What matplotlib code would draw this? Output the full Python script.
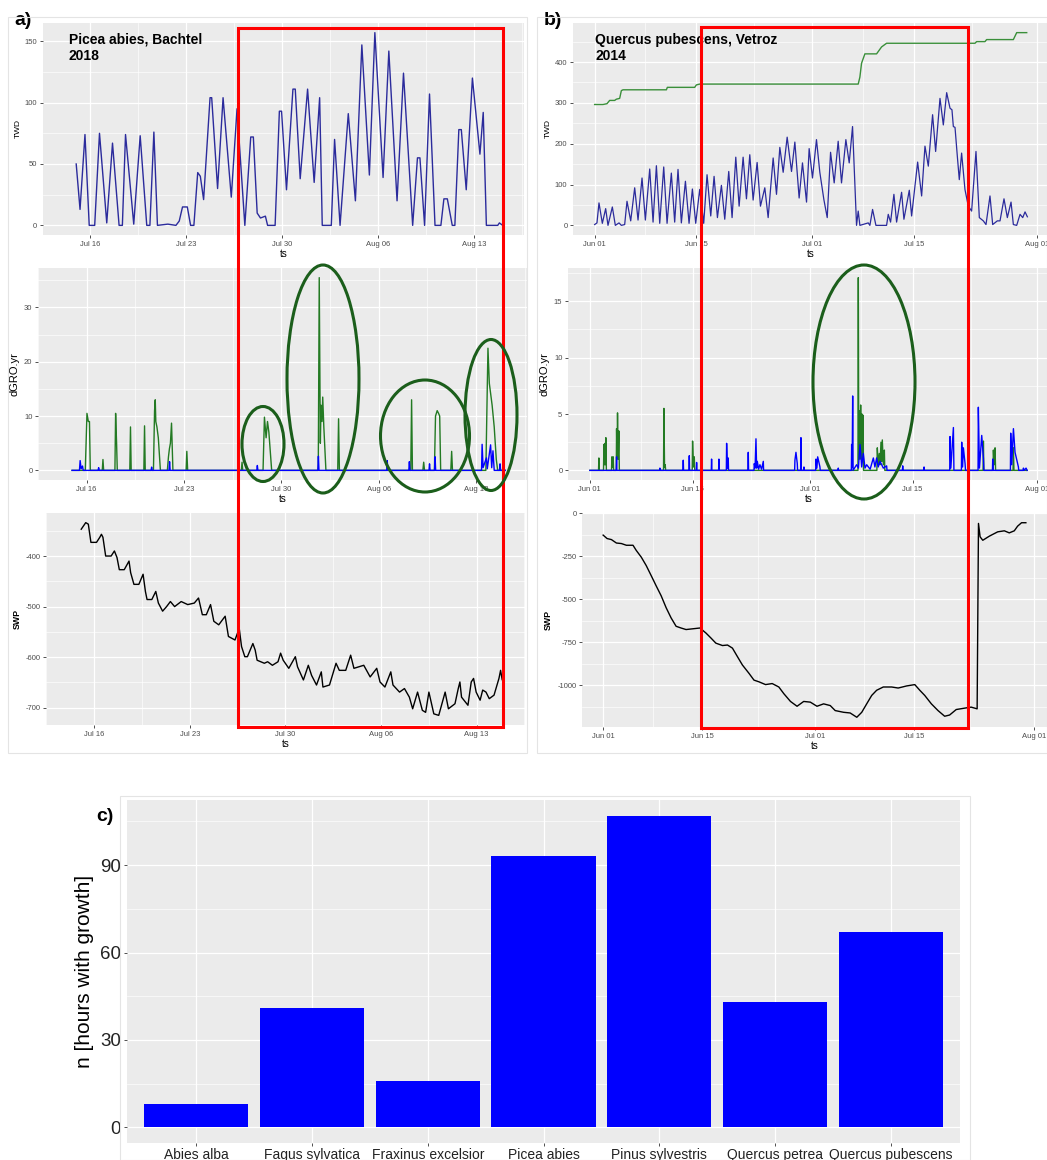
import numpy as np
import pandas as pd
import matplotlib
matplotlib.use('Agg')
import matplotlib.pyplot as plt
from matplotlib.patches import Rectangle, Ellipse
from matplotlib.ticker import MultipleLocator
import matplotlib.dates as mdates

plt.rcParams['font.family'] = ['Liberation Sans', 'DejaVu Sans']
plt.rcParams['axes.unicode_minus'] = False

# ---------------- a) Picea abies, Bachtel 2018 -- days after 2018-07-16 ----------------
START_A = '2018-07-16'
twd_a_day = [-1.04, -0.76, -0.40, -0.09, 0.31, 0.66, 1.19, 1.61, 2.09, 2.33, 2.56, 3.16,
             3.63, 4.11, 4.34, 4.63, 4.89, 5.65, 6.24, 6.48, 6.72, 7.07, 7.31, 7.55,
             7.83, 8.02, 8.26, 8.73, 8.85, 9.28, 9.68, 10.28, 10.70, 11.27, 11.70, 11.89,
             12.17, 12.41, 12.77, 12.93, 13.48, 13.79, 13.95, 14.31, 14.78, 14.95, 15.31, 15.85,
             16.33, 16.73, 16.92, 17.58, 17.82, 18.22, 18.82, 19.34, 19.81, 20.36, 20.76, 21.36,
             21.78, 22.38, 22.85, 23.52, 23.87, 24.05, 24.39, 24.75, 25.15, 25.58, 25.80, 26.05,
             26.41, 26.60, 26.89, 27.07, 27.43, 27.88, 28.43, 28.67, 28.90, 29.73, 29.85, 30.09]
twd_a = [50, 13, 74, 0, 0, 75, 2, 67, 0, 0, 74, 1,
         73, 0, 0, 76, 0, 1, 0, 3.5, 15, 15, 0, 0,
         43, 40, 21, 104, 104, 30, 104, 23, 95, 0, 72, 72,
         10, 6, 7.5, 0, 0, 93, 93, 29, 111, 111, 38, 111,
         35, 104, 0, 0, 70, 0, 91, 20, 147, 41, 157, 39,
         142, 20, 124, 0, 55, 55, 0, 107, 0, 0, 21.6, 21.6,
         0, 0, 78, 78, 29, 120, 58, 92, 0, 0, 2, 0]

dgro_a_green_day = [-1.05, -0.10, 0.02, 0.12, 0.20, 0.26,
                    1.12, 1.17, 1.22,
                    2.03, 2.08, 2.15, 2.20,
                    3.10, 3.15, 3.20,
                    4.11, 4.16, 4.21,
                    4.80, 4.88, 4.93, 4.97, 5.05, 5.15, 5.30,
                    5.80, 5.88, 5.95, 6.02, 6.10, 6.20,
                    7.15, 7.20, 7.26,
                    11.12, 11.17, 11.22,
                    12.68, 12.78, 12.90, 13.00, 13.10, 13.30,
                    16.65, 16.72, 16.80, 16.85, 16.92, 16.97, 17.05, 17.20,
                    18.05, 18.11, 18.17,
                    23.30, 23.36, 23.42,
                    24.17, 24.23, 24.29,
                    25.00, 25.08, 25.20, 25.30, 25.38, 25.45,
                    26.18, 26.24, 26.30,
                    28.70, 28.85, 28.95, 29.05, 29.15, 29.30, 29.45, 29.55,
                    30.10]
dgro_a_green = [0, 0, 10.5, 9, 9, 0,
                0, 2, 0,
                0, 10.5, 5, 0,
                0, 8, 0,
                0, 8.2, 0,
                0, 11, 13, 9, 8, 6, 0,
                0, 2.5, 4, 5, 8.7, 0,
                0, 3.5, 0,
                0, 1.5, 0,
                0, 9.8, 6, 9, 7, 0,
                0, 35.5, 5, 12, 9, 13.5, 8, 0,
                0, 9.5, 0,
                0, 13, 0,
                0, 1.5, 0,
                0, 10, 11, 10.5, 10, 0,
                0, 3.5, 0,
                0, 22.5, 16, 14, 12, 8, 2, 0,
                0]

dgro_a_blue_day = [-1.05, -0.52, -0.47, -0.40, -0.30, -0.25, 0.82, 0.86, 0.90,
                   4.63, 4.67, 4.71, 5.92, 5.96, 6.00, 12.23, 12.27, 12.31,
                   16.62, 16.66, 16.70, 21.57, 21.61, 21.65, 23.16, 23.20, 23.24,
                   24.61, 24.65, 24.69, 25.01, 25.05, 25.09, 28.39, 28.43, 28.50,
                   28.74, 28.80, 29.04, 29.12, 29.21, 29.30, 29.68, 29.72, 29.76, 30.10]
dgro_a_blue = [0, 0, 1.8, 0.3, 0.8, 0, 0, 0.5, 0,
               0, 0.6, 0, 0, 1.6, 0, 0, 0.9, 0,
               0, 2.6, 0, 0, 1.8, 0, 0, 1.6, 0,
               0, 1.2, 0, 0, 2.5, 0, 0, 4.8, 0.5,
               2.3, 0.3, 4.7, 0.5, 3.6, 0, 0, 1.2, 0, 0]

swp_a_day = [-0.95, -0.62, -0.43, -0.24, 0.17, 0.41, 0.53, 0.64, 0.84, 1.24, 1.48, 1.67,
             1.84, 2.20, 2.55, 2.67, 2.91, 3.27, 3.58, 3.75, 3.87, 4.22, 4.51, 4.70,
             5.01, 5.30, 5.58, 5.89, 6.37, 6.85, 7.33, 7.64, 7.92, 8.21, 8.52, 8.76,
             9.12, 9.59, 9.83, 10.31, 10.62, 10.79, 11.03, 11.22, 11.62, 11.79, 11.93, 12.46,
             12.70, 13.05, 13.46, 13.65, 13.84, 14.25, 14.73, 14.89, 15.32, 15.68, 15.92, 16.28,
             16.63, 16.75, 17.23, 17.71, 17.95, 18.42, 18.78, 19.02, 19.74, 20.21, 20.69, 20.93,
             21.29, 21.72, 21.88, 22.36, 22.72, 23.08, 23.32, 23.68, 24.03, 24.27, 24.51, 24.87,
             25.23, 25.70, 25.94, 26.42, 26.66, 26.78, 26.90, 27.37, 27.61, 27.78, 27.97, 28.26,
             28.45, 28.69, 28.93, 29.28, 29.64, 29.76, 29.88, 30.00]
swp_a = [-347, -334, -337, -373, -373, -363, -357, -363, -400, -400, -390, -403,
         -427, -427, -410, -433, -456, -456, -436, -470, -486, -486, -470, -493,
         -509, -500, -490, -500, -490, -496, -493, -483, -516, -516, -496, -529,
         -536, -519, -559, -566, -543, -579, -599, -599, -573, -586, -606, -612,
         -609, -616, -609, -592, -606, -622, -599, -619, -645, -616, -636, -655,
         -629, -659, -655, -612, -626, -626, -596, -622, -616, -639, -622, -649,
         -659, -629, -655, -669, -662, -679, -702, -669, -705, -709, -669, -712,
         -715, -669, -702, -692, -662, -649, -679, -695, -649, -642, -669, -685,
         -665, -669, -682, -675, -642, -626, -645, -645]

a_breaks = ['2018-07-16', '2018-07-23', '2018-07-30', '2018-08-06', '2018-08-13']
a_minor = ['2018-07-12 12:00', '2018-07-19 12:00', '2018-07-26 12:00',
           '2018-08-02 12:00', '2018-08-09 12:00', '2018-08-16 12:00']

# ---------------- b) Quercus pubescens, Vetroz 2014 -- days after 2014-06-01 ----------------
START_B = '2014-06-01'
twd_b_day = [0.00, 0.32, 0.60, 1.06, 1.52, 1.84, 2.44, 2.85, 3.36, 3.68, 4.14, 4.46,
             4.97, 5.52, 5.98, 6.53, 6.99, 7.59, 8.05, 8.51, 8.97, 9.52, 9.98, 10.57,
             11.03, 11.49, 11.95, 12.51, 13.01, 13.47, 13.93, 14.48, 15.03, 15.49, 16.00, 16.46,
             16.92, 17.47, 17.93, 18.48, 18.94, 19.45, 19.91, 20.46, 20.92, 21.38, 21.84, 22.39,
             22.85, 23.45, 23.91, 24.60, 25.06, 25.52, 25.98, 26.53, 27.13, 27.59, 28.18, 28.64,
             29.20, 29.56, 30.02, 30.57, 31.03, 31.59, 32.05, 32.51, 33.01, 33.56, 34.02, 34.62,
             35.08, 35.54, 36.09, 36.32, 36.55, 37.70, 37.93, 38.30, 38.76, 40.23, 40.46, 40.78,
             41.24, 41.61, 42.30, 42.62, 43.36, 43.68, 44.51, 45.06, 45.52, 45.98, 46.57, 46.99,
             47.59, 48.05, 48.51, 48.97, 49.24, 49.43, 49.66, 49.98, 50.25, 50.57, 51.03, 51.49,
             51.95, 52.55, 53.01, 53.56, 53.93, 54.48, 54.85, 55.49, 55.86, 56.41, 56.87, 57.38,
             57.70, 58.16, 58.62, 58.99, 59.31, 59.63]
twd_b = [2, 6, 55, 5, 41, 0, 45, 0, 6, 0, 2, 59,
         11, 92, 13, 116, 13, 138, 8, 146, 5, 143, 5, 128,
         8, 137, 6, 108, 5, 89, 5, 88, 5, 124, 23, 120,
         19, 98, 15, 132, 19, 167, 47, 167, 65, 173, 62, 154,
         47, 92, 19, 165, 76, 191, 130, 216, 132, 204, 67, 153,
         57, 188, 116, 210, 130, 63, 19, 179, 104, 206, 104, 210,
         153, 242, 0, 35, 0, 6, 0, 39, 0, 0, 27, 8,
         76, 8, 81, 15, 86, 23, 155, 72, 194, 145, 271, 181,
         311, 246, 325, 287, 283, 242, 240, 169, 112, 177, 88, 47,
         35, 181, 19, 11, 2, 72, 2, 11, 11, 65, 19, 57,
         2, 0, 27, 19, 33, 21]

twd_b_cum_day = [0.00, 1.15, 1.70, 2.07, 2.76, 2.99, 3.45, 3.68, 3.91, 9.89, 10.02, 13.79,
                 14.02, 14.48, 36.32, 36.55, 36.78, 37.24, 38.85, 39.54, 40.23, 52.41, 52.64, 53.79,
                 54.02, 57.70, 58.16, 59.54]
twd_b_cum = [296, 296, 298, 306, 306, 309, 311, 330, 332, 332, 338, 338,
             344, 346, 346, 363, 397, 420, 420, 437, 446, 446, 450, 450,
             455, 455, 472, 472]

dgro_b_green_day = [0.00, 1.18, 1.23, 1.28,
                    1.86, 1.91, 1.98, 2.05, 2.12, 2.18, 2.25,
                    2.95, 3.00, 3.09, 3.18, 3.24,
                    3.60, 3.64, 3.70, 3.77, 3.86, 3.95, 4.02,
                    10.04, 10.09, 10.18, 10.27, 10.33,
                    13.95, 14.00, 14.12, 14.23, 14.30,
                    36.54, 36.59, 36.65, 36.73, 36.82, 36.91, 37.00, 37.09, 37.16, 37.23, 37.30,
                    39.12, 39.18, 39.30, 39.45, 39.55, 39.68, 39.78, 39.86, 40.00, 40.14, 40.20,
                    53.59, 53.64, 53.70,
                    54.95, 55.00, 55.10, 55.23, 55.30,
                    57.68, 57.73, 57.80,
                    59.60]
dgro_b_green = [0, 0, 1.1, 0,
                0, 2.3, 0.5, 2.4, 0.5, 2.9, 0,
                0, 1.2, 0.3, 1.2, 0,
                0, 3.7, 1, 5.1, 1, 3.5, 0,
                0, 5.5, 0.3, 0.5, 0,
                0, 2.6, 0.3, 1.2, 0,
                0, 17.1, 1, 5.3, 1, 5.8, 1, 5.0, 1, 4.9, 0,
                0, 2.0, 0.5, 1.5, 0.5, 2.5, 0.8, 2.7, 0.5, 1.8, 0,
                0, 2.6, 0,
                0, 1.8, 0.5, 2.0, 0,
                0, 2.0, 0,
                0]

dgro_b_blue_day = [0.00, 3.60, 3.64, 3.68,
                   9.51, 9.55, 9.59,
                   12.69, 12.73, 12.77,
                   13.51, 13.55, 13.59,
                   14.51, 14.55, 14.59,
                   16.55, 16.59, 16.63,
                   17.55, 17.59, 17.63,
                   18.60, 18.64, 18.74, 18.86, 18.90,
                   21.55, 21.59, 21.63,
                   22.37, 22.41, 22.52, 22.64, 22.73, 22.82, 23.00, 23.18, 23.40, 23.64, 23.68,
                   27.91, 27.95, 28.09, 28.27, 28.31,
                   28.73, 28.77, 28.81,
                   29.14, 29.18, 29.22,
                   30.78, 30.82, 30.94, 31.05, 31.36, 31.40,
                   33.82, 33.86, 33.90,
                   35.64, 35.68, 35.75, 35.82, 35.88,
                   36.36, 36.60, 36.82, 37.05, 37.27, 37.50, 37.73, 38.20, 38.64, 38.85, 39.09,
                   39.30, 39.55, 40.00, 40.45, 40.50,
                   42.60, 42.64, 42.68,
                   45.51, 45.55, 45.59,
                   49.05, 49.09, 49.20, 49.55, 49.62,
                   50.64, 50.68, 50.80, 50.91, 51.14, 51.20,
                   52.91, 52.95, 53.10, 53.41, 53.64, 53.70,
                   54.87, 54.91, 54.95,
                   57.32, 57.36, 57.50, 57.73, 57.95, 58.41, 58.45,
                   59.05, 59.09, 59.20, 59.45, 59.60]
dgro_b_blue = [0, 0, 1.2, 0,
               0, 0.2, 0,
               0, 0.9, 0,
               0, 1.3, 0,
               0, 0.7, 0,
               0, 1.0, 0,
               0, 1.0, 0,
               0, 2.4, 0.2, 1.1, 0,
               0, 1.6, 0,
               0, 0.6, 0.2, 2.8, 0.2, 0.8, 0.1, 0.5, 0.1, 0.8, 0,
               0, 0.9, 1.6, 0.6, 0,
               0, 2.9, 0,
               0, 0.3, 0,
               0, 1.0, 0.2, 1.2, 0.3, 0,
               0, 0.2, 0,
               0, 2.3, 0.3, 6.6, 0,
               0.5, 0.2, 2.3, 0.3, 1.5, 0.2, 0.5, 0.1, 1.1, 0.3, 1.1,
               0.3, 0.8, 0.2, 0.4, 0,
               0, 0.4, 0,
               0, 0.3, 0,
               0, 3.0, 0.2, 3.8, 0,
               0, 2.5, 0.3, 2.0, 0.6, 0,
               0, 5.6, 0.2, 3.1, 1.1, 0,
               0, 1.0, 0,
               0, 3.3, 0.5, 3.7, 1.6, 0.3, 0,
               0, 0.2, 0, 0.2, 0]

swp_b_day = [0.00, 0.56, 1.17, 1.88, 2.58, 3.29, 4.23, 4.69, 5.40, 6.10, 6.81, 7.51,
             8.22, 8.92, 9.62, 10.33, 11.03, 11.74, 13.71, 14.55, 15.26, 15.96, 16.90, 17.61,
             18.31, 19.01, 19.72, 20.66, 21.36, 22.07, 23.00, 23.94, 24.88, 25.59, 26.53, 27.46,
             28.40, 29.34, 30.28, 31.22, 32.16, 32.86, 34.04, 34.98, 35.92, 36.62, 37.32, 38.03,
             38.73, 39.67, 40.85, 41.78, 42.96, 44.13, 44.84, 45.54, 46.48, 47.42, 48.36, 49.06,
             50.00, 51.17, 52.11, 52.96, 53.15, 53.38, 53.76, 54.69, 55.87, 56.81, 57.51, 58.22,
             58.69, 59.25, 59.86]
swp_b = [-127, -147, -153, -173, -176, -186, -186, -216, -255, -304, -363, -422,
         -480, -549, -608, -657, -667, -676, -667, -696, -725, -755, -769, -766,
         -784, -833, -882, -931, -970, -980, -996, -990, -1010, -1049, -1094, -1122,
         -1094, -1098, -1122, -1108, -1118, -1147, -1157, -1161, -1186, -1157, -1108, -1059,
         -1029, -1010, -1010, -1016, -1004, -996, -1029, -1059, -1108, -1147, -1180, -1173,
         -1141, -1133, -1127, -1137, -59, -137, -157, -133, -108, -102, -114, -102,
         -75, -55, -55]

b_breaks = ['2014-06-01', '2014-06-15', '2014-07-01', '2014-07-15', '2014-08-01']
b_minor = ['2014-06-08', '2014-06-23', '2014-07-08', '2014-07-23']

# ---------------- c) hours with growth ----------------
species = ['Abies alba', 'Fagus sylvatica', 'Fraxinus excelsior', 'Picea abies',
           'Pinus sylvestris', 'Quercus petrea', 'Quercus pubescens']
hours = [8, 41, 16, 93, 107, 43, 67]

W, H = 1047, 1160
fig = plt.figure(figsize=(W / 100, H / 100), dpi=100)


def px_axes(l, t, r, b):
    return fig.add_axes([l / W, 1 - b / H, (r - l) / W, (b - t) / H])


def ts(start, days):
    return (pd.Timestamp(start) + pd.to_timedelta(days, unit='D')).to_pydatetime()


def expand(vals):
    lo, hi = min(vals), max(vals)
    pad = 0.05 * (hi - lo)
    return lo - pad, hi + pad


def gg(ax, fs=5.5):
    ax.set_facecolor('#EBEBEB')
    for s in ax.spines.values():
        s.set_visible(False)
    ax.grid(which='major', color='white', lw=0.9)
    ax.grid(which='minor', color='white', lw=0.45)
    ax.set_axisbelow(True)
    ax.tick_params(which='major', length=2.5, width=0.6, color='#333333',
                   labelcolor='#4D4D4D', labelsize=fs, pad=1.5)
    ax.tick_params(which='minor', length=0)


def time_axis(ax, start, days, breaks, minor):
    lo, hi = expand(days)
    ax.set_xlim(*ts(start, [lo, hi]))
    ax.set_xticks(pd.to_datetime(breaks).to_pydatetime())
    ax.set_xticks(pd.to_datetime(minor).to_pydatetime(), minor=True)
    ax.xaxis.set_major_formatter(mdates.DateFormatter('%b %d'))
    ax.set_xlabel('ts', fontsize=7, labelpad=1)


TWD_BLUE = '#2B2B9C'
GRO_GREEN = '#237A23'

# --- a) TWD
ax = px_axes(42.5, 23, 524, 235)
gg(ax)
ax.plot(ts(START_A, twd_a_day), twd_a, color=TWD_BLUE, lw=1.0)
time_axis(ax, START_A, twd_a_day, a_breaks, a_minor)
ax.set_ylim(*expand(twd_a))
ax.yaxis.set_major_locator(MultipleLocator(50))
ax.yaxis.set_minor_locator(MultipleLocator(25))
ax.set_ylabel('TWD', fontsize=6, labelpad=2)

# --- a) dGRO.yr
ax = px_axes(38, 268, 527, 480)
gg(ax)
ax.plot(ts(START_A, dgro_a_green_day), dgro_a_green, color=GRO_GREEN, lw=1.0)
ax.plot(ts(START_A, dgro_a_blue_day), dgro_a_blue, color='#0000FF', lw=1.0)
time_axis(ax, START_A, dgro_a_green_day + dgro_a_blue_day, a_breaks, a_minor)
ax.set_ylim(*expand(dgro_a_green + dgro_a_blue))
ax.yaxis.set_major_locator(MultipleLocator(10))
ax.yaxis.set_minor_locator(MultipleLocator(5))
ax.set_ylabel('dGRO.yr', fontsize=8, labelpad=3)

# --- a) SWP
ax = px_axes(46.4, 513, 525, 725)
gg(ax)
ax.plot(ts(START_A, swp_a_day), swp_a, color='black', lw=1.0)
time_axis(ax, START_A, swp_a_day, a_breaks, a_minor)
ax.set_ylim(*expand(swp_a))
ax.yaxis.set_major_locator(MultipleLocator(100))
ax.yaxis.set_minor_locator(MultipleLocator(50))
ax.set_ylabel('SWP', fontsize=6.3, fontweight='bold', labelpad=3)

# --- b) TWD
ax = px_axes(573, 23, 1049, 235)
gg(ax)
ax.plot(ts(START_B, twd_b_cum_day), twd_b_cum, color='#3A8F3A', lw=1.0)
ax.plot(ts(START_B, twd_b_day), twd_b, color=TWD_BLUE, lw=0.9)
time_axis(ax, START_B, twd_b_day + twd_b_cum_day, b_breaks, b_minor)
ax.set_ylim(*expand(twd_b + twd_b_cum))
ax.yaxis.set_major_locator(MultipleLocator(100))
ax.yaxis.set_minor_locator(MultipleLocator(50))
ax.set_ylabel('TWD', fontsize=6, labelpad=2)

# --- b) dGRO.yr
ax = px_axes(568, 268, 1049, 480)
gg(ax)
ax.plot(ts(START_B, dgro_b_green_day), dgro_b_green, color=GRO_GREEN, lw=1.0)
ax.plot(ts(START_B, dgro_b_blue_day), dgro_b_blue, color='#0000FF', lw=1.0)
time_axis(ax, START_B, dgro_b_green_day + dgro_b_blue_day, b_breaks, b_minor)
ax.set_ylim(*expand(dgro_b_green + dgro_b_blue))
ax.yaxis.set_major_locator(MultipleLocator(5))
ax.yaxis.set_minor_locator(MultipleLocator(2.5))
ax.set_ylabel('dGRO.yr', fontsize=8, labelpad=3)

# --- b) SWP
ax = px_axes(582, 513, 1047, 727)
gg(ax)
ax.plot(ts(START_B, swp_b_day), swp_b, color='black', lw=1.0)
time_axis(ax, START_B, swp_b_day, b_breaks, b_minor)
ax.set_ylim(*expand(swp_b))
ax.yaxis.set_major_locator(MultipleLocator(250))
ax.yaxis.set_minor_locator(MultipleLocator(125))
ax.set_ylabel('SWP', fontsize=6.3, fontweight='bold', labelpad=3)

# --- c) bar chart
ax = px_axes(127, 800, 960, 1143)
gg(ax, fs=13.5)
x = np.arange(len(species))
ax.bar(x, hours, width=0.9, color='#0000FF')
ax.set_xlim(-0.6, len(species) - 0.4)
ax.set_ylim(*expand([0] + hours))
ax.set_xticks(x)
ax.set_xticklabels(species)
ax.yaxis.set_major_locator(MultipleLocator(30))
ax.yaxis.set_minor_locator(MultipleLocator(15))
ax.tick_params(axis='x', labelsize=10, labelcolor='#222222', pad=1)
ax.tick_params(axis='y', labelcolor='#222222', pad=2)
ax.set_ylabel('n [hours with growth]', fontsize=15, labelpad=4)

# --- panel letters and titles
fig.text(14 / W, 1 - 12 / H, 'a)', fontsize=14, fontweight='bold', va='top')
fig.text(544 / W, 1 - 12 / H, 'b)', fontsize=14, fontweight='bold', va='top')
fig.text(96 / W, 1 - 808 / H, 'c)', fontsize=14, fontweight='bold', va='top')
fig.text(69 / W, 1 - 33 / H, 'Picea abies, Bachtel\n2018', fontsize=10,
         fontweight='bold', va='top', linespacing=1.15)
fig.text(595 / W, 1 - 33 / H, 'Quercus pubescens, Vetroz\n2014', fontsize=10,
         fontweight='bold', va='top', linespacing=1.15)

# --- overlay annotations in figure pixels
ov = fig.add_axes([0, 0, 1, 1], zorder=20)
ov.set_xlim(0, W)
ov.set_ylim(H, 0)
ov.axis('off')
ov.patch.set_alpha(0)
for l, t, r, b in [(8, 17, 527, 753), (537, 17, 1047, 753), (120, 796, 970, 1160)]:
    ov.add_patch(Rectangle((l, t), r - l, b - t, fill=False, ec='#E4E4E4', lw=0.8))
ov.add_patch(Rectangle((238, 28), 265, 699, fill=False, ec='#FF0000', lw=2.2))
ov.add_patch(Rectangle((701, 27), 267, 701, fill=False, ec='#FF0000', lw=2.2))
for cx, cy, w, h in [(263, 444, 42, 75), (323, 379, 72, 228), (425, 436, 89, 112),
                     (491, 415, 52, 151), (864, 382, 102, 234)]:
    ov.add_patch(Ellipse((cx, cy), w, h, fill=False, ec='#1B5E1B', lw=2.2))

fig.savefig('out.png', dpi=100)
